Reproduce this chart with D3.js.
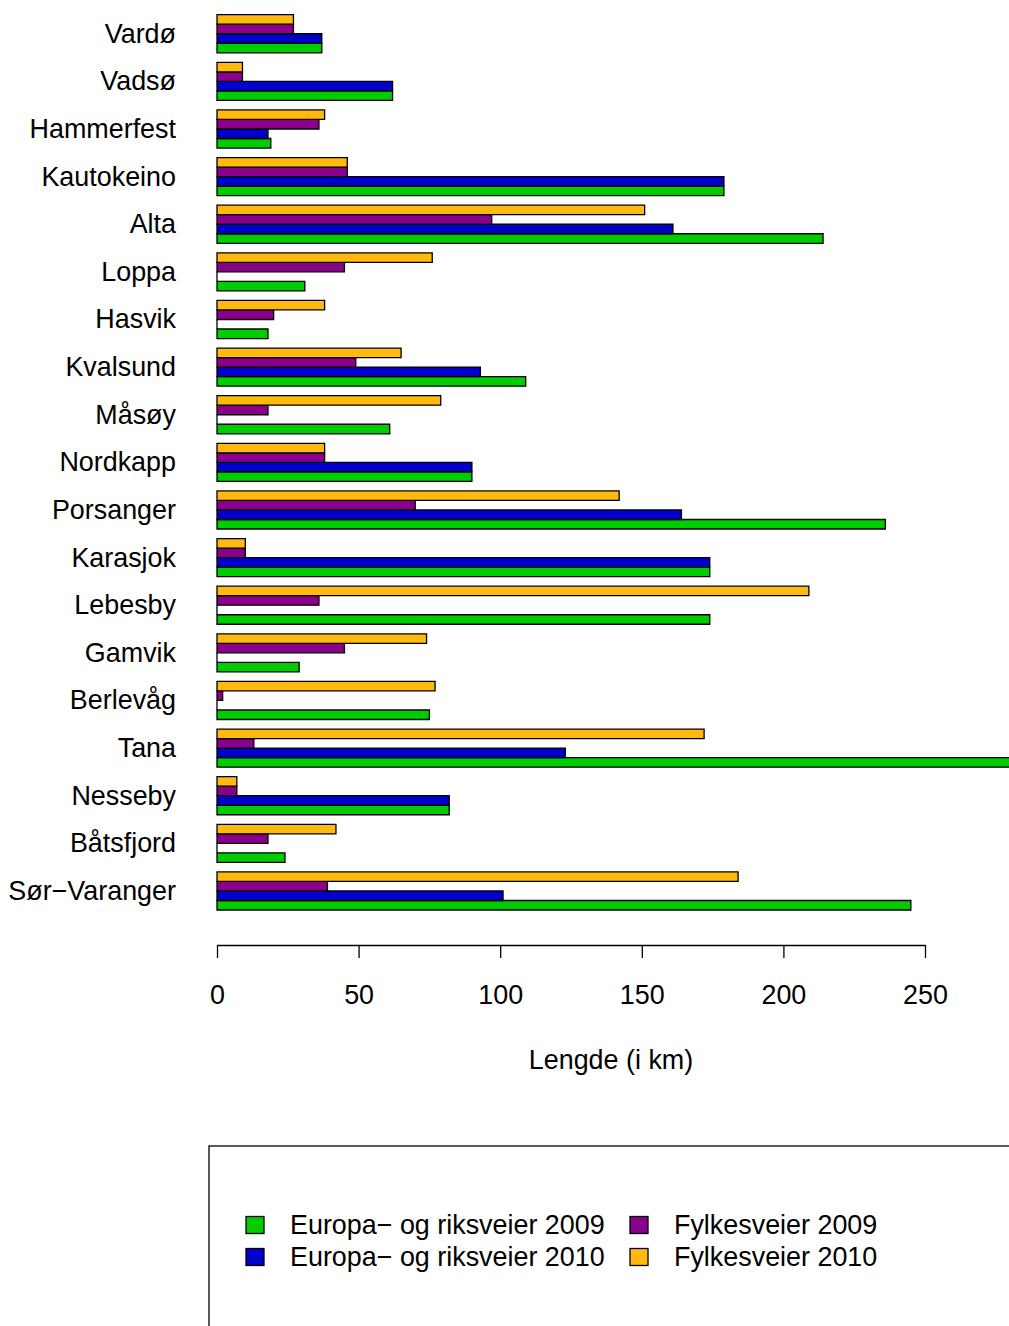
<!DOCTYPE html>
<html><head><meta charset="utf-8">
<script src="https://cdn.jsdelivr.net/npm/d3@7"></script>
<style>body{margin:0;background:#fff}svg{display:block}</style>
</head><body>
<script>
const categories = ["Vardø","Vadsø","Hammerfest","Kautokeino","Alta","Loppa","Hasvik","Kvalsund","Måsøy","Nordkapp","Porsanger","Karasjok","Lebesby","Gamvik","Berlevåg","Tana","Nesseby","Båtsfjord","Sør−Varanger"];
const europa2009 = [37,62,19,179,214,31,18,109,61,90,236,174,174,29,75,285,82,24,245];
const europa2010 = [37,62,18,179,161,0,0,93,0,90,164,174,0,0,0,123,82,0,101];
const fylke2009  = [27,9,36,46,97,45,20,49,18,38,70,10,36,45,2,13,7,18,39];
const fylke2010  = [27,9,38,46,151,76,38,65,79,38,142,10,209,74,77,172,7,42,184];
const seriesNames = ["Europa− og riksveier 2009","Europa− og riksveier 2010","Fylkesveier 2009","Fylkesveier 2010"];
const seriesColors = ["#00CD00","#0000CD","#8B008B","#FFB90F"];
const xTicks = [0,50,100,150,200,250];
const xLabel = "Lengde (i km)";

const W = 1009, H = 1326;
const font = "'Liberation Sans', Arial, Helvetica, sans-serif";
const fs = 26.9;
const series = [europa2009, europa2010, fylke2009, fylke2010];
const n = categories.length;

const svg = d3.select("body").append("svg").attr("width", W).attr("height", H)
  .style("font-family", font);

const x = d3.scaleLinear().domain([0, 250]).range([217, 925]);
const y = d3.scaleLinear().domain([1, 1 + n * 5 - 1]).range([910, 14.7]);

const bars = [];
categories.forEach((c, i) => {
  const g = n - 1 - i;
  series.forEach((s, j) => {
    bars.push({cat: c, j, v: s[i], u: 1 + g * 5 + j});
  });
});

svg.append("g").selectAll("path").data(bars).join("path")
  .attr("d", d => {
    const x0 = x(0), x1 = x(d.v), y0 = y(d.u), y1 = y(d.u + 1);
    return `M${x0},${y0}H${x1}V${y1}H${x0}Z`;
  })
  .attr("fill", d => seriesColors[d.j])
  .attr("stroke", "#000").attr("stroke-width", 1.3);

svg.append("g").selectAll("text").data(categories).join("text")
  .attr("x", 176)
  .attr("y", (c, i) => { const g = n - 1 - i; return y(1 + g * 5 + 2); })
  .attr("text-anchor", "end").attr("dominant-baseline", "central")
  .attr("font-size", fs).attr("fill", "#000").text(c => c);

const axisG = svg.append("g").attr("transform", "translate(0,945)");
const axis = d3.axisBottom(x).tickValues(xTicks).tickSize(13).tickPadding(27).tickSizeOuter(0);
axisG.call(axis);
axisG.select(".domain").attr("stroke", "#000").attr("stroke-width", 1.3);
axisG.selectAll(".tick line").attr("stroke", "#000").attr("stroke-width", 1.3);
axisG.selectAll(".tick text").attr("font-size", fs).attr("font-family", font).attr("fill", "#000");

svg.append("text").attr("x", 611).attr("y", 1060)
  .attr("text-anchor", "middle").attr("dominant-baseline", "central")
  .attr("font-size", fs).text(xLabel);

svg.append("rect").attr("x", 209).attr("y", 1146).attr("width", 1000).attr("height", 400)
  .attr("fill", "none").attr("stroke", "#000").attr("stroke-width", 1.3);
const legPos = [{sx:246, tx:290, ty:1225},{sx:246, tx:290, ty:1257},{sx:630, tx:674, ty:1225},{sx:630, tx:674, ty:1257}];
const leg = svg.append("g").selectAll("g").data(seriesNames).join("g");
leg.append("rect")
  .attr("x", (d, i) => legPos[i].sx).attr("y", (d, i) => legPos[i].ty - 8.5)
  .attr("width", 18).attr("height", 17)
  .attr("fill", (d, i) => seriesColors[i]).attr("stroke", "#000").attr("stroke-width", 1.3);
leg.append("text")
  .attr("x", (d, i) => legPos[i].tx).attr("y", (d, i) => legPos[i].ty)
  .attr("dominant-baseline", "central").attr("font-size", fs).text(d => d);
</script>
</body></html>
